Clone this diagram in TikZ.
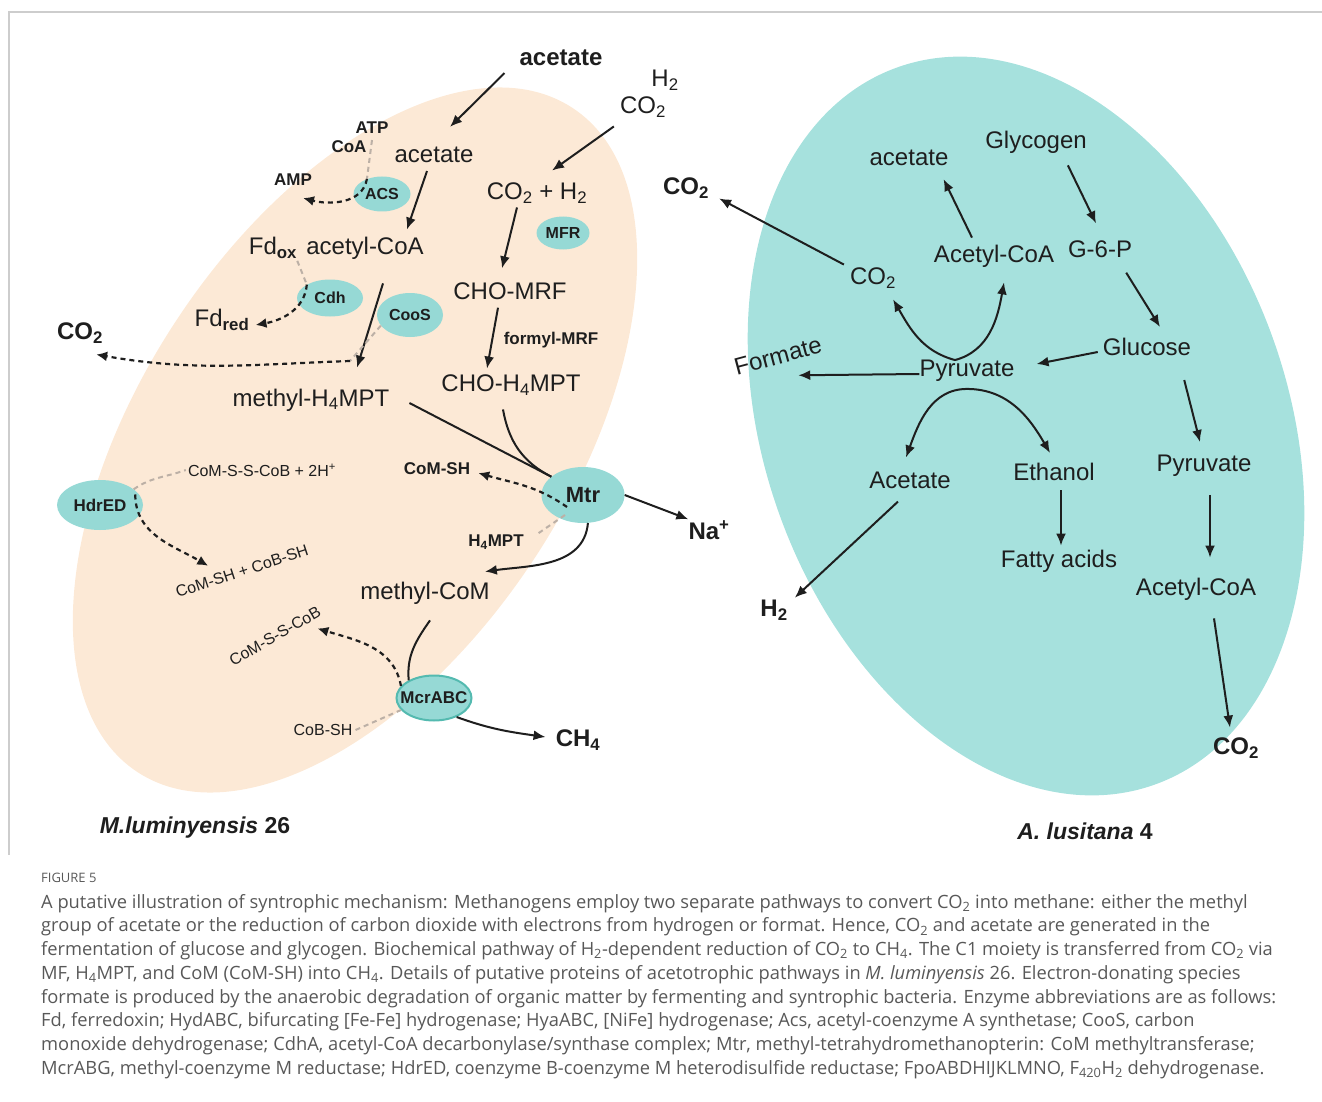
\documentclass[tikz,border=0pt]{standalone}
\usepackage{fontspec}
\setmainfont{Liberation Sans}
\newfontfamily\capfont{Open Sans}
\usepackage{xcolor}
\usetikzlibrary{shapes.geometric}
\usetikzlibrary{arrows.meta}
\definecolor{peach}{RGB}{252,233,214}
\definecolor{aqua}{RGB}{166,225,221}
\definecolor{enzfill}{RGB}{150,217,213}
\definecolor{enzline}{RGB}{84,186,176}
\definecolor{ink}{RGB}{30,30,30}
\definecolor{faint}{RGB}{188,176,166}
\definecolor{capgray}{RGB}{88,88,88}
\definecolor{framegray}{RGB}{205,205,205}

\begin{document}
\begin{tikzpicture}[x=1pt,y=-1pt,
    every node/.style={inner sep=0pt,text=ink},
    met/.style={font=\fontsize{24}{26}\selectfont},
    metb/.style={font=\bfseries\fontsize{24}{26}\selectfont},
    lab/.style={font=\fontsize{16}{18}\selectfont},
    labb/.style={font=\bfseries\fontsize{17}{19}\selectfont},
    enz/.style={ellipse,fill=enzfill,font=\bfseries\fontsize{16}{18}\selectfont},
    arr/.style={draw=ink,line width=2pt,-{Latex[length=12pt,width=10pt]}},
    dasharr/.style={draw=ink,line width=2.2pt,dash pattern=on 5pt off 4pt,-{Latex[length=11pt,width=10pt]}},
    graydash/.style={draw=faint,line width=2pt,dash pattern=on 5pt off 4pt}
    ]
    \useasboundingbox (0,0) rectangle (1322,1102);
    \draw[framegray,line width=2pt] (1322,12) -- (9,12) -- (9,855);

    \fill[peach,rotate around={56.8:(355,440)}] (355,440) ellipse [x radius=397,y radius=215];
    \fill[aqua,rotate around={-70.2:(1026,426)}] (1026,426) ellipse [x radius=381,y radius=262];

    % M. luminyensis
    \node[metb] (acetop) at (561,58) {acetate};
    \node[met] (htop) at (665,80) {H\textsubscript{2}};
    \node[met] (co2top) at (643,107) {CO\textsubscript{2}};
    \node[met] (acein) at (434,155) {acetate};
    \node[labb] (atp) at (372,128) {ATP};
    \node[labb] (coa) at (349,147) {CoA};
    \node[labb] (amp) at (293,180) {AMP};
    \node[enz,minimum width=57pt,minimum height=35pt] (acs) at (382,194) {ACS};
    \node[met] (acoa) at (365,248) {acetyl-CoA};
    \node[met] (fdox) at (273,248) {Fd\textsubscript{\bfseries ox}};
    \node[enz,minimum width=66pt,minimum height=37pt] (cdh) at (330,298) {Cdh};
    \node[enz,minimum width=66pt,minimum height=44pt] (coos) at (410,315) {CooS};
    \node[met] (fdred) at (222,320) {Fd\textsubscript{\bfseries red}};
    \node[metb] (co2l) at (80,333) {CO\textsubscript{2}};
    \node[met] (mh4) at (311,400) {methyl-H\textsubscript{4}MPT};
    \node[met] (co2h2) at (537,193) {CO\textsubscript{2} + H\textsubscript{2}};
    \node[enz,minimum width=53pt,minimum height=33pt] (mfr) at (563,233) {MFR};
    \node[met] (chomrf) at (510,291) {CHO-MRF};
    \node[labb] (formyl) at (551,340) {formyl-MRF};
    \node[met] (choh4) at (511,385) {CHO-H\textsubscript{4}MPT};
    \node[enz,minimum width=83pt,minimum height=56pt,font=\bfseries\fontsize{22}{24}\selectfont] (mtr) at (583,495) {Mtr};
    \node[metb] (na) at (709,530) {Na\textsuperscript{+}};
    \node[labb] (comsh) at (437,469) {CoM-SH};
    \node[labb] (h4mpt) at (496,542) {H\textsubscript{4}MPT};
    \node[met] (mcom) at (425,593) {methyl-CoM};
    \node[enz,minimum width=86pt,minimum height=50pt,font=\bfseries\fontsize{17}{19}\selectfont] (hdred) at (100,505) {HdrED};
    \node[lab] (hetero) at (262,470) {CoM-S-S-CoB + 2H\textsuperscript{+}};
    \node[lab,rotate=18] (thiols) at (242,571) {CoM-SH + CoB-SH};
    \node[enz,draw=enzline,line width=2pt,minimum width=75pt,minimum height=45pt,inner xsep=-10pt,font=\bfseries\fontsize{17}{19}\selectfont] (mcr) at (434,698) {McrABC};
    \node[lab,rotate=30] (comsscob) at (275,636) {CoM-S-S-CoB};
    \node[lab] (cobsh) at (323,730) {CoB-SH};
    \node[metb] (ch4) at (578,740) {CH\textsubscript{4}};
    \node[font=\bfseries\fontsize{23}{25}\selectfont] (mlum) at (195,828) {\textit{M.luminyensis} 26};

    \draw[arr] ([xshift=-15pt,yshift=-7pt]acetop.south west) -- ([xshift=16pt,yshift=20pt]acein.north);
    \draw[arr] ([xshift=-6pt,yshift=-9pt]co2top.south west) -- ([xshift=15pt,yshift=12pt]co2h2.north);
    \draw[arr] ([xshift=-7pt,yshift=-8pt]acein.south) -- ([xshift=-17pt,yshift=7pt]acoa.north east);
    \draw[arr] ([xshift=18pt,yshift=-24pt]acoa.south) -- ([xshift=46pt,yshift=21pt]mh4.north);
    \draw[arr] ([xshift=-20pt,yshift=-4pt]co2h2.south) -- ([xshift=-8pt,yshift=14pt]chomrf.north);
    \draw[arr] ([xshift=-12pt,yshift=-8pt]chomrf.south) -- ([xshift=-24pt,yshift=6pt]choh4.north);

    \draw[graydash] ([yshift=-6pt]atp.south) -- (acs.135);
    \draw[dasharr] (acs.135) to[out=-100,in=-15] ([xshift=10pt,yshift=-12pt]amp.south);
    \draw[graydash] ([yshift=-2pt]fdox.south east) -- (cdh.150);
    \draw[dasharr] (cdh.150) to[out=-95,in=10] ([xshift=6pt,yshift=-5pt]fdred.east);
    \coordinate (cobend) at (350,361);
    \draw[graydash] (coos.200) -- (cobend);
    \draw[dasharr] (cobend) to[out=182,in=-10] ([xshift=-7pt,yshift=-11pt]co2l.south east);

    \draw[ink,line width=2pt] ([xshift=20pt,yshift=-3pt]mh4.east) -- (mtr.150);
    \draw[ink,line width=2pt] ([xshift=-8pt,yshift=-14pt]choh4.south) to[out=-80,in=153] (mtr.150);
    \draw[arr] (mtr.east) -- ([yshift=1pt]na.north west);
    \draw[dasharr] ([xshift=-16pt,yshift=-12pt]mtr.center) to[out=145,in=-16] ([xshift=8pt,yshift=-4pt]comsh.east);
    \draw[graydash] ([xshift=-18pt,yshift=-20pt]mtr.center) -- ([xshift=12pt,yshift=7pt]h4mpt.east);
    \draw[arr] (mtr.-80) to[out=-95,in=8] ([xshift=-5pt,yshift=10pt]mcom.north east);

    \draw[graydash] (hdred.25) to[out=35,in=200] ([xshift=-2pt]hetero.west);
    \draw[dasharr] ([xshift=-4pt]hdred.15) to[out=-90,in=150] ([xshift=34pt,yshift=21pt]thiols.north west);

    \draw[ink,line width=2pt] ([xshift=5pt,yshift=-16pt]mcom.south) to[out=235,in=95] (mcr.145);
    \draw[dasharr] (mcr.160) to[out=100,in=-17] ([xshift=-5pt,yshift=-13pt]comsscob.south east);
    \draw[graydash] ([xshift=3pt]cobsh.east) -- (mcr.200);
    \draw[arr] (mcr.-40) to[out=-20,in=172] ([xshift=-10pt,yshift=3pt]ch4.west);

    % A. lusitana
    \node[met] (ace2) at (909,158) {acetate};
    \node[met] (glyc) at (1036,142) {Glycogen};
    \node[metb] (co2o) at (686,188) {CO\textsubscript{2}};
    \node[met] (acoa2) at (994,256) {Acetyl-CoA};
    \node[met] (g6p) at (1100,249) {G-6-P};
    \node[met] (co2i) at (873,278) {CO\textsubscript{2}};
    \node[met] (gluc) at (1147,347) {Glucose};
    \node[met] (pyr) at (967,371) {Pyruvate};
    \node[met,rotate=15] (form) at (778,356) {Formate};
    \node[met] (acet) at (910,480) {Acetate};
    \node[met] (eth) at (1054,472) {Ethanol};
    \node[met] (pyr2) at (1204,466) {Pyruvate};
    \node[metb] (h2r) at (774,610) {H\textsubscript{2}};
    \node[met] (fatty) at (1059,561) {Fatty acids};
    \node[met] (acoa3) at (1196,589) {Acetyl-CoA};
    \node[metb] (co2r) at (1236,748) {CO\textsubscript{2}};
    \node[font=\bfseries\fontsize{23}{25}\selectfont] (alus) at (1085,831) {\textit{A. lusitana} 4};

    \draw[arr] ([xshift=-6pt,yshift=3pt]co2i.north west) -- ([xshift=10pt]co2o.south east);
    \draw[arr] ([xshift=-22pt,yshift=7pt]acoa2.north) -- ([xshift=-5pt,yshift=-13pt]ace2.south east);
    \draw[arr] ([xshift=-19pt,yshift=-12pt]glyc.south east) -- ([xshift=-4pt,yshift=17pt]g6p.north);
    \draw[arr] ([xshift=-6pt,yshift=-15pt]g6p.south east) -- ([xshift=13pt,yshift=11pt]gluc.north);
    \draw[arr] ([xshift=-5pt,yshift=-5pt]gluc.west) -- ([xshift=22pt,yshift=7pt]pyr.east);
    \draw[arr] ([yshift=-3pt]pyr.west) -- ([xshift=18pt,yshift=-11pt]form.south);
    \draw[arr] ([xshift=-12pt]pyr.north) to[out=165,in=-60] ([xshift=-3pt,yshift=-11pt]co2i.south east);
    \draw[arr] ([xshift=-12pt]pyr.north) to[out=15,in=-100] ([xshift=10pt,yshift=-15pt]acoa2.south);
    \draw[arr] ([yshift=-7pt]pyr.south) to[out=180,in=70] ([xshift=-4pt,yshift=14pt]acet.north);
    \draw[arr] ([yshift=-7pt]pyr.south) to[out=0,in=120] ([xshift=-4pt,yshift=10pt]eth.north);
    \draw[arr] ([xshift=-12pt,yshift=-13pt]acet.south) -- ([xshift=7pt,yshift=2pt]h2r.north east);
    \draw[arr] ([xshift=7pt,yshift=-9pt]eth.south) -- ([xshift=2pt,yshift=4pt]fatty.north);
    \draw[arr] ([xshift=-7pt,yshift=-24pt]gluc.south east) -- ([xshift=-4pt,yshift=13pt]pyr2.north);
    \draw[arr] ([xshift=6pt,yshift=-18pt]pyr2.south) -- ([xshift=14pt,yshift=20pt]acoa3.north);
    \draw[arr] ([xshift=18pt,yshift=-18pt]acoa3.south) -- ([xshift=-6pt,yshift=10pt]co2r.north);

    % caption
    \node[anchor=base west,font=\capfont\fontsize{13}{15}\selectfont,text=capgray] (figno) at (41,882) {FIGURE 5};
    \node[anchor=north west,align=left,font=\capfont\fontsize{18.3}{23.7}\selectfont,text=capgray] (caption) at (41,894) {A putative illustration of syntrophic mechanism: Methanogens employ two separate pathways to convert CO\textsubscript{2} into methane: either the methyl\\
group of acetate or the reduction of carbon dioxide with electrons from hydrogen or format. Hence, CO\textsubscript{2} and acetate are generated in the\\
fermentation of glucose and glycogen. Biochemical pathway of H\textsubscript{2}-dependent reduction of CO\textsubscript{2} to CH\textsubscript{4}. The C1 moiety is transferred from CO\textsubscript{2} via\\
MF, H\textsubscript{4}MPT, and CoM (CoM-SH) into CH\textsubscript{4}. Details of putative proteins of acetotrophic pathways in \textit{M. luminyensis} 26. Electron-donating species\\
formate is produced by the anaerobic degradation of organic matter by fermenting and syntrophic bacteria. Enzyme abbreviations are as follows:\\
Fd, ferredoxin; HydABC, bifurcating [Fe-Fe] hydrogenase; HyaABC, [NiFe] hydrogenase; Acs, acetyl-coenzyme A synthetase; CooS, carbon\\
monoxide dehydrogenase; CdhA, acetyl-CoA decarbonylase/synthase complex; Mtr, methyl-tetrahydromethanopterin: CoM methyltransferase;\\
McrABG, methyl-coenzyme M reductase; HdrED, coenzyme B-coenzyme M heterodisulfide reductase; FpoABDHIJKLMNO, F\textsubscript{420}H\textsubscript{2} dehydrogenase.};
\end{tikzpicture}
\end{document}
